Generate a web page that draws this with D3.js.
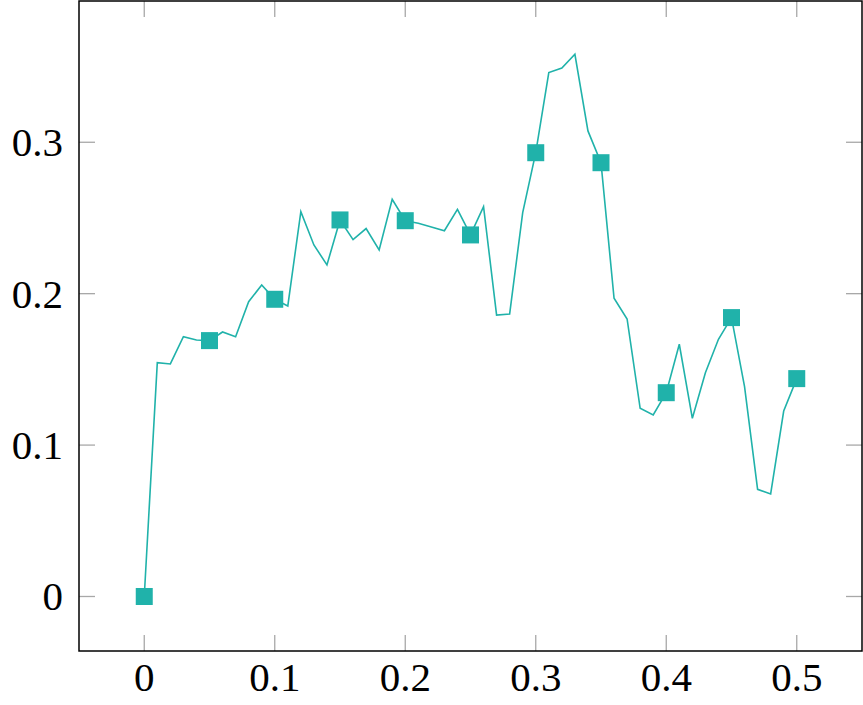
<!DOCTYPE html>
<html><head><meta charset="utf-8">
<script src="https://cdn.jsdelivr.net/npm/d3@7"></script>
<style>body{margin:0;background:#fff}svg{display:block}</style>
</head><body>
<script>
const xValues = [0,0.01,0.02,0.03,0.04,0.05,0.06,0.07,0.08,0.09,0.10,0.11,0.12,0.13,0.14,0.15,0.16,0.17,0.18,0.19,0.20,0.21,0.22,0.23,0.24,0.25,0.26,0.27,0.28,0.29,0.30,0.31,0.32,0.33,0.34,0.35,0.36,0.37,0.38,0.39,0.40,0.41,0.42,0.43,0.44,0.45,0.46,0.47,0.48,0.49,0.50];
const yValues = [0,0.1544,0.1536,0.1716,0.1694,0.169,0.1747,0.1716,0.1947,0.2057,0.1963,0.1919,0.2542,0.2322,0.219,0.2487,0.2357,0.243,0.2289,0.2623,0.2482,0.2465,0.2441,0.2416,0.2557,0.2388,0.2575,0.1859,0.1866,0.2535,0.2931,0.346,0.349,0.3581,0.3075,0.2865,0.197,0.1833,0.1243,0.1199,0.1346,0.1666,0.1177,0.1478,0.1699,0.1842,0.1386,0.0708,0.0677,0.1225,0.1439];
const xTicks = [0,0.1,0.2,0.3,0.4,0.5];
const xTickLabels = ["0","0.1","0.2","0.3","0.4","0.5"];
const yTicks = [0,0.1,0.2,0.3];
const yTickLabels = ["0","0.1","0.2","0.3"];

const W = 863, H = 705;
const L = 79, R = 862, T = 1, B = 651;
const color = "#20B2AA";
const svg = d3.select("body").append("svg").attr("width", W).attr("height", H);
const x = d3.scaleLinear().domain([-0.05, 0.55]).range([L, R]);
const y = d3.scaleLinear().domain([-0.036, 0.3933]).range([B, T]);
const font = "'Liberation Serif', 'DejaVu Serif', serif";
const tickLen = 16;

const data = xValues.map((v, i) => ({x: v, y: yValues[i]}));

// ticks (inward, all four sides)
const gt = svg.append("g").attr("stroke", "#a8a8a8").attr("stroke-width", 1.3);
xTicks.forEach(t => {
  gt.append("line").attr("x1", x(t)).attr("x2", x(t)).attr("y1", B).attr("y2", B - tickLen);
  gt.append("line").attr("x1", x(t)).attr("x2", x(t)).attr("y1", T).attr("y2", T + tickLen);
});
yTicks.forEach(t => {
  gt.append("line").attr("y1", y(t)).attr("y2", y(t)).attr("x1", L).attr("x2", L + tickLen);
  gt.append("line").attr("y1", y(t)).attr("y2", y(t)).attr("x1", R).attr("x2", R - tickLen);
});

// line
const line = d3.line().x(d => x(d.x)).y(d => y(d.y));
svg.append("path").datum(data).attr("d", line).attr("fill", "none")
  .attr("stroke", color).attr("stroke-width", 1.6).attr("stroke-linejoin", "miter");

// markers every 5th point
const ms = 17;
svg.append("g").selectAll("rect").data(data.filter((d, i) => i % 5 === 0)).join("rect")
  .attr("x", d => x(d.x) - ms / 2).attr("y", d => y(d.y) - ms / 2)
  .attr("width", ms).attr("height", ms).attr("fill", color);

// frame
svg.append("rect").attr("x", L).attr("y", T).attr("width", R - L).attr("height", B - T)
  .attr("fill", "none").attr("stroke", "#000").attr("stroke-width", 1.5);

// tick labels
svg.append("g").selectAll("text").data(xTicks).join("text")
  .attr("x", d => x(d)).attr("y", 691).attr("text-anchor", "middle")
  .attr("font-family", font).attr("font-size", 41).attr("fill", "#000")
  .text((d, i) => xTickLabels[i]);
svg.append("g").selectAll("text").data(yTicks).join("text")
  .attr("x", 63).attr("y", d => y(d) + 14).attr("text-anchor", "end")
  .attr("font-family", font).attr("font-size", 41).attr("fill", "#000")
  .text((d, i) => yTickLabels[i]);
</script>
</body></html>
